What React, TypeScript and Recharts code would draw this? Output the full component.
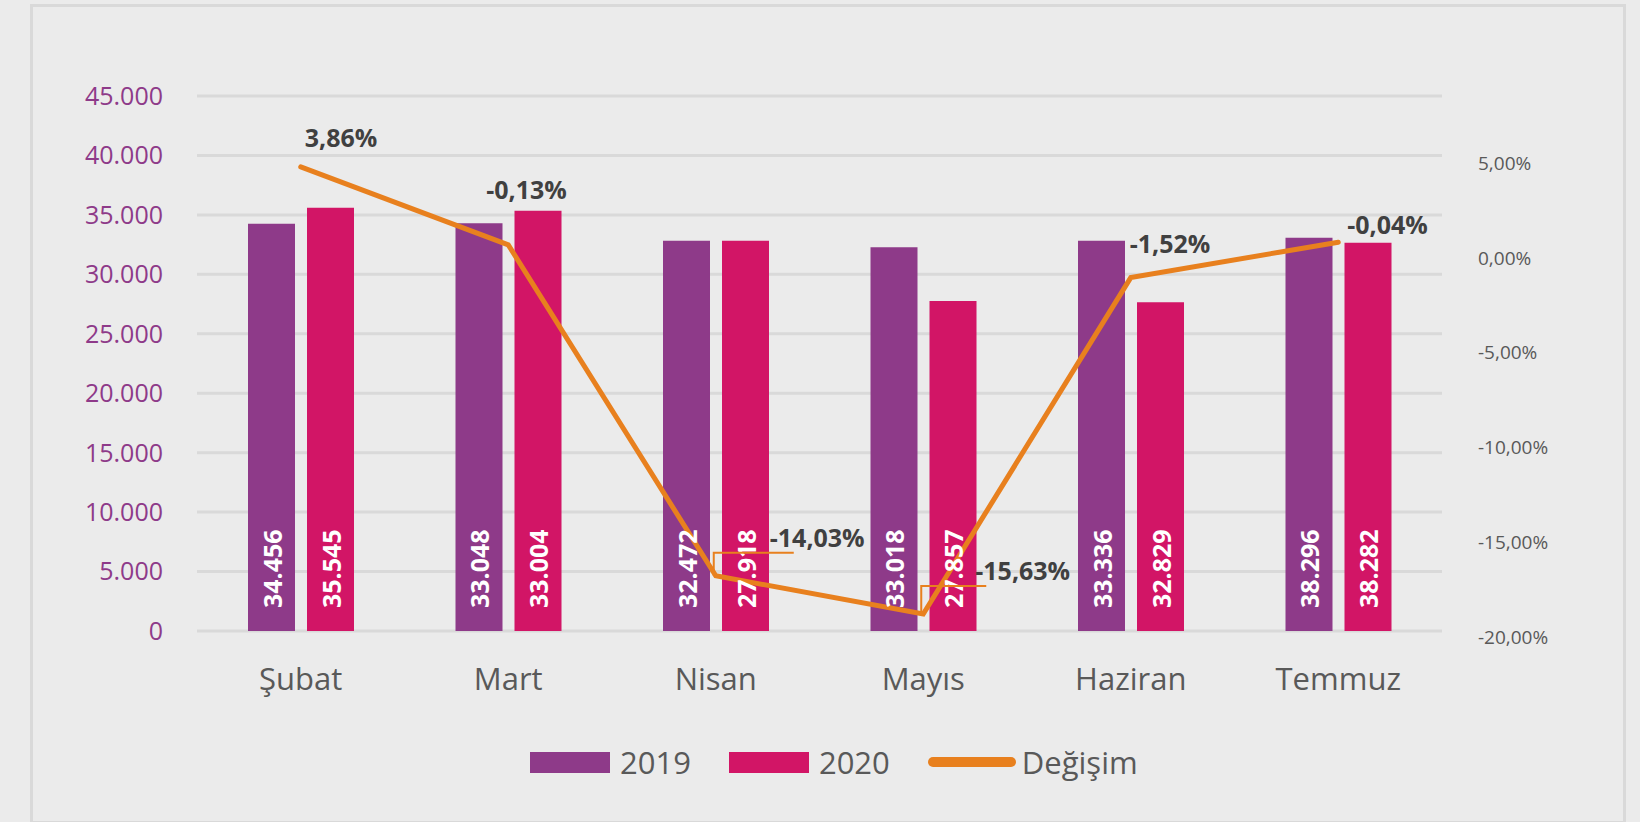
import { ComposedChart, Bar, Line, XAxis, YAxis, CartesianGrid, LabelList } from "recharts";

const months = ["Şubat", "Mart", "Nisan", "Mayıs", "Haziran", "Temmuz"];

// bar heights as they are drawn in the picture
const bars2019 = [34250, 34290, 32830, 32270, 32830, 33080];
const bars2020 = [35600, 35350, 32830, 27760, 27650, 32660];

// numbers printed inside the bars
const labels2019 = ["34.456", "33.048", "32.472", "33.018", "33.336", "38.296"];
const labels2020 = ["35.545", "33.004", "27.918", "27.857", "32.829", "38.282"];

// Değişim line (percent, right axis) and its printed labels
const change = [4.8, 0.69, -16.77, -18.78, -1.04, 0.83];
const changeLabels = ["3,86%", "-0,13%", "-14,03%", "-15,63%", "-1,52%", "-0,04%"];

const leftTicks = [0, 5000, 10000, 15000, 20000, 25000, 30000, 35000, 40000, 45000];
const rightTicks = [-20, -15, -10, -5, 0, 5];

const PURPLE = "#8E3A89";
const PINK = "#D21566";
const ORANGE = "#E8801E";
const FONT = "'Open Sans', sans-serif";

const data = months.map((m, i) => ({
  month: m,
  y2019: bars2019[i],
  y2020: bars2020[i],
  l2019: labels2019[i],
  l2020: labels2020[i],
  change: change[i],
  lChange: changeLabels[i],
}));

// where each % label sits relative to its point: [dx to text start, dy to baseline]
const pctOffset = [
  [4, -20],
  [-22, -46],
  [54, -29],
  [52, -34],
  [-1, -25],
  [9, -8],
];
// labels that were dragged away and got a leader line (length past text start)
const leaders: Record<number, number> = { 2: 24, 3: 11 };

const fmtThousands = (v: number) =>
  v === 0 ? "0" : v.toLocaleString("de-DE");
const fmtPct = (v: number) => v.toFixed(2).replace(".", ",") + "%";

function BarValue(props: any) {
  const { x, y, width, height, value } = props;
  const cx = x + width / 2;
  const by = y + height - 23;
  return (
    <text
      x={cx}
      y={by}
      transform={`rotate(-90, ${cx}, ${by})`}
      textAnchor="start"
      dominantBaseline="central"
      fill="#ffffff"
      fontFamily={FONT}
      fontWeight={700}
      fontSize={25}
    >
      {value}
    </text>
  );
}

function PctLabel(props: any) {
  const { x, y, value, index } = props;
  const [dx, dy] = pctOffset[index];
  const tx = x + dx;
  const ty = y + dy;
  const lead = leaders[index];
  return (
    <g>
      {lead !== undefined && (
        <polyline
          points={`${x - 2},${y} ${x - 2},${ty + 6} ${tx + lead},${ty + 6}`}
          fill="none"
          stroke={ORANGE}
          strokeWidth={2}
        />
      )}
      <text
        x={tx}
        y={ty}
        fill="#404040"
        fontFamily={FONT}
        fontWeight={700}
        fontSize={25}
      >
        {value}
      </text>
    </g>
  );
}

function LegendBox({ color, label }: { color: string; label: string }) {
  return (
    <div style={{ display: "flex", alignItems: "center", marginRight: 38 }}>
      <div style={{ width: 80, height: 21, background: color, marginRight: 10 }} />
      <span>{label}</span>
    </div>
  );
}

export default function App() {
  return (
    <div
      style={{
        position: "absolute",
        left: 0,
        top: 0,
        width: 1640,
        height: 822,
        background: "#ebebeb",
        overflow: "hidden",
      }}
    >
      <div
        style={{
          position: "absolute",
          left: 30,
          top: 4,
          width: 1590,
          height: 814,
          border: "3px solid #d9d9d9",
        }}
      />
      <div style={{ position: "absolute", left: 0, top: 0 }}>
        <ComposedChart
          width={1640}
          height={822}
          data={data}
          margin={{ top: 96, right: 0, bottom: 131, left: 0 }}
          barSize={47}
          barGap={12}
        >
          <CartesianGrid
            yAxisId="left"
            vertical={false}
            stroke="#d9d9d9"
            strokeWidth={3}
          />
          <XAxis
            dataKey="month"
            height={60}
            axisLine={false}
            tickLine={false}
            tickSize={0}
            tickMargin={37}
            tick={{ fill: "#595959", fontSize: 31, fontFamily: FONT }}
          />
          <YAxis
            yAxisId="left"
            width={197}
            domain={[0, 45000]}
            ticks={leftTicks}
            interval={0}
            axisLine={false}
            tickLine={false}
            tickSize={0}
            tickMargin={34}
            tickFormatter={fmtThousands}
            tick={{ fill: PURPLE, fontSize: 25, fontFamily: FONT }}
          />
          <YAxis
            yAxisId="right"
            orientation="right"
            width={198}
            domain={[-19.68, 8.54]}
            ticks={rightTicks}
            interval={0}
            axisLine={false}
            tickLine={false}
            tickSize={0}
            tickMargin={36}
            tickFormatter={fmtPct}
            tick={{ fill: "#595959", fontSize: 19, fontFamily: FONT, textAnchor: "start" }}
          />
          <Bar yAxisId="left" dataKey="y2019" fill={PURPLE} isAnimationActive={false}>
            <LabelList dataKey="l2019" content={BarValue} />
          </Bar>
          <Bar yAxisId="left" dataKey="y2020" fill={PINK} isAnimationActive={false}>
            <LabelList dataKey="l2020" content={BarValue} />
          </Bar>
          <Line
            yAxisId="right"
            dataKey="change"
            type="linear"
            stroke={ORANGE}
            strokeWidth={5}
            strokeLinecap="round"
            dot={false}
            activeDot={false}
            isAnimationActive={false}
          >
            <LabelList dataKey="lChange" content={PctLabel} />
          </Line>
        </ComposedChart>
      </div>
      {/* legend */}
      <div
        style={{
          position: "absolute",
          left: 530,
          top: 740,
          display: "flex",
          alignItems: "center",
          fontFamily: FONT,
          fontSize: 31,
          color: "#595959",
          lineHeight: "44px",
        }}
      >
        <LegendBox color={PURPLE} label="2019" />
        <LegendBox color={PINK} label="2020" />
        <div style={{ display: "flex", alignItems: "center" }}>
          <div
            style={{
              width: 88,
              height: 10,
              borderRadius: 5,
              background: ORANGE,
              marginRight: 6,
            }}
          />
          <span>Değişim</span>
        </div>
      </div>
    </div>
  );
}
